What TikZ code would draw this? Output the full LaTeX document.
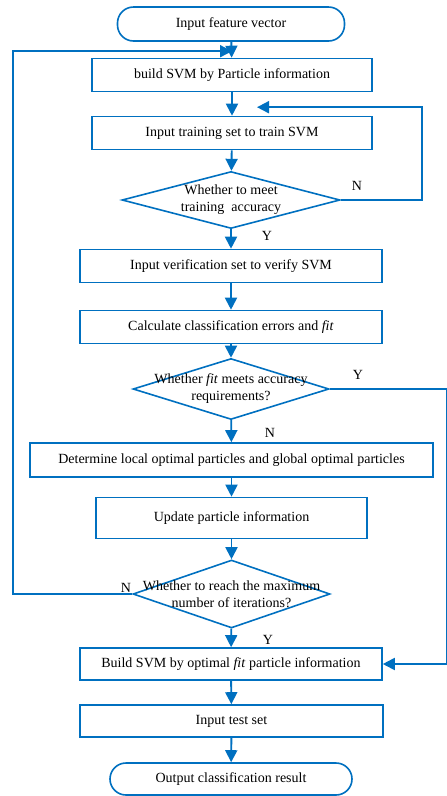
\documentclass[tikz,border=0pt]{standalone}
\usepackage{fontspec}
\setmainfont{Liberation Serif}
\usetikzlibrary{arrows.meta,positioning,shapes.geometric,calc}
\definecolor{flowblue}{RGB}{0,112,192}

\begin{document}
\begin{tikzpicture}[
		x=1pt, y=-1pt,
		>={Triangle[length=12pt,width=12pt]},
		% Styles
		box/.style={draw=flowblue, line width=1.6pt, fill=white, minimum height=33pt, inner sep=2pt,
			font=\fontsize{14}{17}\selectfont},
		terminal/.style={box, rounded corners=16pt},
		decision/.style={diamond, draw=flowblue, line width=1.6pt, inner sep=0pt},
		dtext/.style={align=center, font=\fontsize{14}{17}\selectfont},
		flow/.style={->, draw=flowblue, line width=1.9pt},
		lbl/.style={font=\fontsize{14}{16}\selectfont}
	]

	\useasboundingbox (0,0) rectangle (447,796);

	% --- 1. START AND TRAINING LOOP ---
	\node[terminal, minimum width=227pt, minimum height=34pt] (start) at (231,24) {Input feature vector};
	\node[box, minimum width=280pt] (svm) at (232,75) {build SVM by Particle information};
	\node[box, minimum width=280pt] (train) at (232,133) {Input training set to train SVM};
	\node[decision, minimum width=218pt, minimum height=57pt] (acc) at (231,200) {};
	\node[dtext] (accT) at (acc) {Whether to meet\\training\ \ accuracy};

	% --- 2. VERIFICATION ---
	\node[box, minimum width=302pt] (verify) at (231,266) {Input verification set to verify SVM};
	\node[box, minimum width=302pt] (calc) at (231,327) {Calculate classification errors and \textit{fit}};
	\node[decision, minimum width=196pt, minimum height=61pt] (fitchk) at (231,389) {};
	\node[dtext] (fitT) at (fitchk) {Whether \textit{fit} meets accuracy\\requirements?};

	% --- 3. PARTICLE UPDATE ---
	\node[box, minimum width=403pt, minimum height=34pt] (local) at (231.5,460) {Determine local optimal particles and global optimal particles};
	\node[box, minimum width=271pt, minimum height=41pt] (update) at (231.5,518) {Update particle information};
	\node[decision, minimum width=197pt, minimum height=68pt] (iter) at (231.5,594) {};
	\node[dtext] (iterT) at (iter) {Whether to reach the maximum\\number of iterations?};

	% --- 4. FINAL MODEL ---
	\node[box, minimum width=302pt, minimum height=32pt] (best) at (231,664) {Build SVM by optimal \textit{fit} particle information};
	\node[box, minimum width=303pt, minimum height=32pt] (test) at (231.5,721) {Input test set};
	\node[terminal, minimum width=242pt, minimum height=32pt] (out) at (231,779) {Output classification result};

	% Join points above the boxes
	\coordinate (jn1) at ([yshift=6.5pt]svm.north);
	\coordinate (jn2) at ([xshift=25pt,yshift=8.5pt]train.north);

	% --- 5. CONNECTORS ---
	\draw[flow] (start) -- (svm);
	\draw[flow] (svm) -- (train);
	\draw[flow] (train) -- (acc);
	\draw[flow] (acc.east) -- ++(81,0) |- (jn2);
	\draw[flow] (acc) -- (verify);
	\draw[flow] (verify) -- (calc);
	\draw[flow] (calc) -- (fitchk);
	\draw[flow] (fitchk.east) -- ++(117,0) |- (best.east);
	\draw[flow] (fitchk) -- (local);
	\draw[flow] (local) -- (update);
	\draw[flow] (update) -- (iter);
	\draw[flow] (iter.west) -- ++(-119,0) |- (jn1);
	\draw[flow] (iter) -- (best);
	\draw[flow] (best) -- (test);
	\draw[flow] (test) -- (out);

	% Branch labels
	\node[lbl] (accN) at (357,186) {N};
	\node[lbl] (accY) at (267,236) {Y};
	\node[lbl] (fitY) at (358,375) {Y};
	\node[lbl] (fitN) at (270,433) {N};
	\node[lbl] (iterN) at (126,588) {N};
	\node[lbl] (iterY) at (268,640) {Y};

\end{tikzpicture}
\end{document}
